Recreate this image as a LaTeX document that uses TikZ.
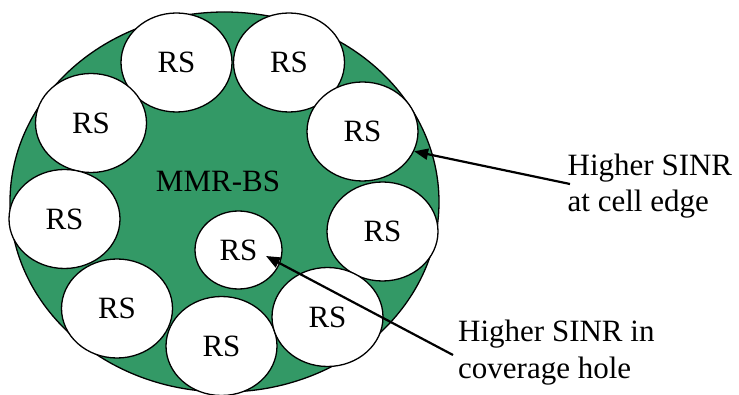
\documentclass[tikz,border=0pt]{standalone}
\usepackage{fontspec}
\setmainfont{Liberation Serif}
\usetikzlibrary{shapes.geometric,arrows.meta}
\definecolor{cellgreen}{RGB}{51,153,102}
\begin{document}
\begin{tikzpicture}[x=1pt,y=-1pt,
  txt/.style={font=\fontsize{31}{36.5}\selectfont},
  cell/.style={draw=black,fill=cellgreen,ellipse,line width=1.3pt,inner sep=0pt,
    minimum width=429pt,minimum height=380pt},
  relay/.style={draw=black,fill=white,ellipse,line width=1.3pt,inner sep=0pt,
    minimum width=111pt,minimum height=99pt,txt},
  note/.style={txt,align=left,inner sep=0pt},
  pointer/.style={line width=2.2pt,-{Triangle[length=14pt,width=11pt]}}]
\useasboundingbox (0,0) rectangle (739,395);

% macro cell of the base station
\node[cell] (bs) at (224.5,202) {};
\node[txt,anchor=base] (bslabel) at (218,191.5) {MMR-BS};

% relay stations along the cell edge
\node[relay] (rs1) at (176.5,62.5) {RS};
\node[relay] (rs2) at (289,62.5) {RS};
\node[relay] (rs3) at (91,123) {RS};
\node[relay] (rs4) at (362.5,131.5) {RS};
\node[relay] (rs5) at (64.5,219) {RS};
\node[relay] (rs6) at (382.5,231.5) {RS};
\node[relay] (rs8) at (117,308.5) {RS};
\node[relay] (rs9) at (221.5,346) {RS};
\node[relay] (rs10) at (327.5,317) {RS};
% relay station in the coverage hole
\node[relay,minimum width=87pt,minimum height=78pt] (hole) at (238.5,250) {RS};

% annotations (base anchor sits on the last line)
\node[note,anchor=base west] (edgenote) at (567.5,211.7) {Higher SINR\\at cell edge};
\node[note,anchor=base west] (holenote) at (458,378.3) {Higher SINR in\\coverage hole};

\coordinate (edgefrom) at (570,184);
\coordinate (holefrom) at (453,355);
\coordinate (holetip) at (266,256);
\draw[pointer] (edgefrom) -- (rs4.-21);
\draw[pointer] (holefrom) -- (holetip);
\end{tikzpicture}
\end{document}
